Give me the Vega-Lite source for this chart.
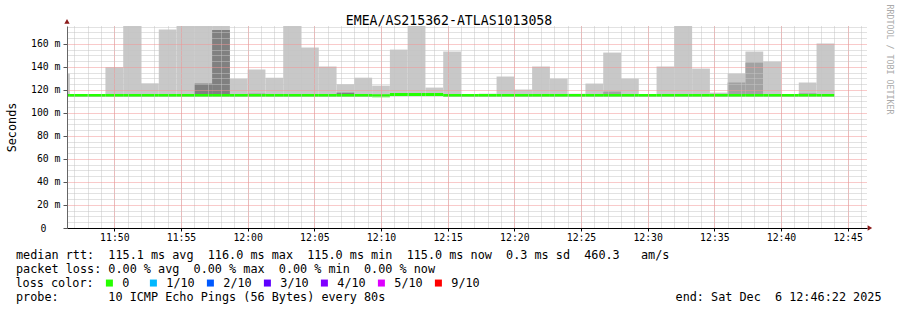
{
  "$schema": "https://vega.github.io/schema/vega-lite/v6.json",
  "width": 800,
  "height": 202,
  "autosize": {"type": "none"},
  "padding": {"left": 67, "top": 26, "right": 30, "bottom": 82},
  "background": "#ffffff",
  "config": {
    "view": {"stroke": null},
    "axis": {"labelFont": "DejaVu Sans Mono", "titleFont": "DejaVu Sans Mono", "titleFontWeight": "normal", "labelColor": "#000000", "titleColor": "#000000"}
  },
  "datasets": {
    "smoke": [
      {"t0": "2025-12-06T11:45:20Z", "t1": "2025-12-06T11:46:40Z", "med": 115.1, "max": 134, "loss": "0"},
      {"t0": "2025-12-06T11:46:40Z", "t1": "2025-12-06T11:48:00Z", "med": 115.1, "max": 116, "loss": "0"},
      {"t0": "2025-12-06T11:48:00Z", "t1": "2025-12-06T11:49:20Z", "med": 115.1, "max": 116, "loss": "0"},
      {"t0": "2025-12-06T11:49:20Z", "t1": "2025-12-06T11:50:40Z", "med": 115.1, "max": 139.7, "loss": "0"},
      {"t0": "2025-12-06T11:50:40Z", "t1": "2025-12-06T11:52:00Z", "med": 115.1, "max": 176, "loss": "0"},
      {"t0": "2025-12-06T11:52:00Z", "t1": "2025-12-06T11:53:20Z", "med": 115.1, "max": 125.7, "loss": "0"},
      {"t0": "2025-12-06T11:53:20Z", "t1": "2025-12-06T11:54:40Z", "med": 115.1, "max": 172.4, "loss": "0"},
      {"t0": "2025-12-06T11:54:40Z", "t1": "2025-12-06T11:56:00Z", "med": 115.1, "max": 176, "loss": "0"},
      {"t0": "2025-12-06T11:56:00Z", "t1": "2025-12-06T11:57:20Z", "med": 115.1, "max": 176, "p9": 125.5, "band": "dark", "loss": "0"},
      {"t0": "2025-12-06T11:57:20Z", "t1": "2025-12-06T11:58:40Z", "med": 115.1, "max": 176, "p9": 172, "band": "dark", "loss": "0"},
      {"t0": "2025-12-06T11:58:40Z", "t1": "2025-12-06T12:00:00Z", "med": 115.1, "max": 129.7, "loss": "0"},
      {"t0": "2025-12-06T12:00:00Z", "t1": "2025-12-06T12:01:20Z", "med": 115.1, "max": 137.6, "p9": 116.8, "band": "mid", "loss": "0"},
      {"t0": "2025-12-06T12:01:20Z", "t1": "2025-12-06T12:02:40Z", "med": 115.1, "max": 130.6, "loss": "0"},
      {"t0": "2025-12-06T12:02:40Z", "t1": "2025-12-06T12:04:00Z", "med": 115.1, "max": 176, "loss": "0"},
      {"t0": "2025-12-06T12:04:00Z", "t1": "2025-12-06T12:05:20Z", "med": 115.1, "max": 156.8, "loss": "0"},
      {"t0": "2025-12-06T12:05:20Z", "t1": "2025-12-06T12:06:40Z", "med": 115.1, "max": 140.3, "loss": "0"},
      {"t0": "2025-12-06T12:06:40Z", "t1": "2025-12-06T12:08:00Z", "med": 115.1, "max": 124.9, "p9": 117.6, "band": "dark", "loss": "0"},
      {"t0": "2025-12-06T12:08:00Z", "t1": "2025-12-06T12:09:20Z", "med": 115.1, "max": 130.6, "loss": "0"},
      {"t0": "2025-12-06T12:09:20Z", "t1": "2025-12-06T12:10:40Z", "med": 114.9, "max": 123.7, "loss": "0"},
      {"t0": "2025-12-06T12:10:40Z", "t1": "2025-12-06T12:12:00Z", "med": 116.0, "max": 155, "loss": "0"},
      {"t0": "2025-12-06T12:12:00Z", "t1": "2025-12-06T12:13:20Z", "med": 116.0, "max": 176, "loss": "0"},
      {"t0": "2025-12-06T12:13:20Z", "t1": "2025-12-06T12:14:40Z", "med": 116.0, "max": 122, "loss": "0"},
      {"t0": "2025-12-06T12:14:40Z", "t1": "2025-12-06T12:16:00Z", "med": 115.1, "max": 153.3, "loss": "0"},
      {"t0": "2025-12-06T12:16:00Z", "t1": "2025-12-06T12:17:20Z", "med": 115.1, "max": 116, "loss": "0"},
      {"t0": "2025-12-06T12:17:20Z", "t1": "2025-12-06T12:18:40Z", "med": 115.1, "max": 116.7, "loss": "0"},
      {"t0": "2025-12-06T12:18:40Z", "t1": "2025-12-06T12:20:00Z", "med": 115.1, "max": 131.6, "loss": "0"},
      {"t0": "2025-12-06T12:20:00Z", "t1": "2025-12-06T12:21:20Z", "med": 115.1, "max": 120.3, "loss": "0"},
      {"t0": "2025-12-06T12:21:20Z", "t1": "2025-12-06T12:22:40Z", "med": 115.1, "max": 140.3, "loss": "0"},
      {"t0": "2025-12-06T12:22:40Z", "t1": "2025-12-06T12:24:00Z", "med": 115.1, "max": 129.8, "loss": "0"},
      {"t0": "2025-12-06T12:24:00Z", "t1": "2025-12-06T12:25:20Z", "med": 115.1, "max": 116.7, "loss": "0"},
      {"t0": "2025-12-06T12:25:20Z", "t1": "2025-12-06T12:26:40Z", "med": 115.1, "max": 125.5, "loss": "0"},
      {"t0": "2025-12-06T12:26:40Z", "t1": "2025-12-06T12:28:00Z", "med": 115.1, "max": 152.4, "p9": 118.5, "band": "mid", "loss": "0"},
      {"t0": "2025-12-06T12:28:00Z", "t1": "2025-12-06T12:29:20Z", "med": 115.1, "max": 129.8, "loss": "0"},
      {"t0": "2025-12-06T12:29:20Z", "t1": "2025-12-06T12:30:40Z", "med": 115.1, "max": 116, "loss": "0"},
      {"t0": "2025-12-06T12:30:40Z", "t1": "2025-12-06T12:32:00Z", "med": 115.1, "max": 140.3, "loss": "0"},
      {"t0": "2025-12-06T12:32:00Z", "t1": "2025-12-06T12:33:20Z", "med": 115.1, "max": 176, "loss": "0"},
      {"t0": "2025-12-06T12:33:20Z", "t1": "2025-12-06T12:34:40Z", "med": 115.1, "max": 138.5, "loss": "0"},
      {"t0": "2025-12-06T12:34:40Z", "t1": "2025-12-06T12:36:00Z", "med": 115.1, "max": 117.6, "loss": "0"},
      {"t0": "2025-12-06T12:36:00Z", "t1": "2025-12-06T12:37:20Z", "med": 115.1, "max": 134.2, "p9": 126.4, "band": "mid", "loss": "0"},
      {"t0": "2025-12-06T12:37:20Z", "t1": "2025-12-06T12:38:40Z", "med": 115.1, "max": 153.3, "p9": 143.7, "band": "mid", "loss": "0"},
      {"t0": "2025-12-06T12:38:40Z", "t1": "2025-12-06T12:40:00Z", "med": 115.1, "max": 144.6, "loss": "0"},
      {"t0": "2025-12-06T12:40:00Z", "t1": "2025-12-06T12:41:20Z", "med": 115.1, "max": 116, "loss": "0"},
      {"t0": "2025-12-06T12:41:20Z", "t1": "2025-12-06T12:42:40Z", "med": 115.1, "max": 126.4, "p9": 117, "band": "mid", "loss": "0"},
      {"t0": "2025-12-06T12:42:40Z", "t1": "2025-12-06T12:44:00Z", "med": 115.1, "max": 160.2, "loss": "0"}
    ],
    "arrows": [
      {"t": "2025-12-06T12:46:40Z", "v": 0, "axis": "x"},
      {"t": "2025-12-06T11:46:27Z", "v": 179.5, "axis": "y"}
    ]
  },
  "resolve": {"axis": {"x": "independent", "y": "independent"}},
  "layer": [
    {
      "data": {"name": "smoke"},
      "mark": {"type": "rect", "color": "#c8c8c8", "clip": true},
      "encoding": {
        "x": {
          "field": "t0", "type": "temporal",
          "scale": {"type": "utc", "domain": [1765021587000, 1765025187000], "nice": false},
          "axis": {
            "orient": "bottom", "zindex": 1, "tickCount": 60, "labels": false, "ticks": false, "domain": false,
            "grid": true, "gridDash": [1, 1], "gridColor": "#c4c4c4",
            "title": "end: Sat Dec\u00a0\u00a06 12:46:22 2025", "titleFontSize": 11.8, "titleX": 814, "titleY": 72, "titleAlign": "right", "titleBaseline": "alphabetic", "titleAngle": 0
          }
        },
        "x2": {"field": "t1"},
        "y": {
          "field": "med", "type": "quantitative",
          "scale": {"domain": [0, 175.5], "nice": false, "zero": true},
          "axis": {
            "orient": "left", "zindex": 1,
            "values": [5, 10, 15, 25, 30, 35, 45, 50, 55, 65, 70, 75, 85, 90, 95, 105, 110, 115, 125, 130, 135, 145, 150, 155, 165, 170, 175],
            "labels": false, "ticks": false, "domain": false,
            "grid": true, "gridDash": [1, 1], "gridColor": "#c4c4c4",
            "title": null
          }
        },
        "y2": {"field": "max"}
      }
    },
    {
      "data": {"name": "smoke"},
      "transform": [{"filter": "isValid(datum.p9)"}],
      "mark": {"type": "rect", "clip": true},
      "encoding": {
        "x": {
          "field": "t0", "type": "temporal",
          "axis": {
            "orient": "bottom", "zindex": 1, "tickCount": 12, "format": "%H:%M",
            "labelFontSize": 9.8, "labelPadding": 1,
            "tickSize": 3, "tickColor": "#000000",
            "domainColor": "#000000",
            "grid": true, "gridDash": [1, 1], "gridColor": "#f29494",
            "title": ["median rtt:\u00a0\u00a0115.1 ms avg\u00a0\u00a0116.0 ms max\u00a0\u00a0115.0 ms min\u00a0\u00a0115.0 ms now\u00a0\u00a00.3 ms sd\u00a0\u00a0460.3\u00a0\u00a0\u00a0am/s", "packet loss: 0.00 % avg\u00a0\u00a00.00 % max\u00a0\u00a00.00 % min\u00a0\u00a00.00 % now", "\u2800", "probe:\u00a0\u00a0\u00a0\u00a0\u00a0\u00a0\u00a010 ICMP Echo Pings (56 Bytes) every 80s"],
            "titleFontSize": 11.8, "titleLineHeight": 14, "titleX": -51.5, "titleY": 30, "titleAlign": "left", "titleBaseline": "alphabetic", "titleAngle": 0
          }
        },
        "x2": {"field": "t1"},
        "y": {
          "field": "med", "type": "quantitative",
          "axis": {
            "orient": "left", "zindex": 1,
            "values": [0, 20, 40, 60, 80, 100, 120, 140, 160],
            "labelExpr": "datum.value == 0 ? '0\u2800\u2800' : datum.value + ' m'",
            "labelFontSize": 9.8, "labelPadding": 3,
            "tickSize": 4, "tickColor": "#555555",
            "domainColor": "#666666",
            "grid": true, "gridDash": [1, 1], "gridColor": "#f29494",
            "title": "Seconds", "titleFontSize": 11.8, "titleAngle": -90, "titleX": -56, "titleY": 101, "titleAlign": "center", "titleBaseline": "middle"
          }
        },
        "y2": {"field": "p9"},
        "color": {"field": "band", "type": "nominal", "scale": {"domain": ["mid", "dark"], "range": ["#a2a2a2", "#808080"]}, "legend": null}
      }
    },
    {
      "data": {"name": "smoke"},
      "mark": {"type": "rect", "strokeWidth": 3, "clip": true},
      "encoding": {
        "x": {"field": "t0", "type": "temporal", "axis": null},
        "x2": {"field": "t1"},
        "y": {"field": "med", "type": "quantitative", "axis": null},
        "y2": {"field": "med"},
        "fill": {
          "field": "loss", "type": "nominal",
          "scale": {"domain": ["0", "1/10", "2/10", "3/10", "4/10", "5/10", "9/10"], "range": ["#26ff00", "#00b8ff", "#0059ff", "#5e00ff", "#7e00ff", "#dd00ff", "#ff0000"]},
          "legend": {
            "orient": "none", "legendX": -51.5, "legendY": 251, "direction": "horizontal",
            "title": "loss color:", "titleOrient": "left", "titlePadding": 9, "titleFont": "DejaVu Sans Mono", "titleFontSize": 11.8, "titleFontWeight": "normal", "titleColor": "#000000",
            "labelFont": "DejaVu Sans Mono", "labelFontSize": 11.8, "labelColor": "#000000", "labelOffset": 7,
            "labelExpr": "datum.label == '0' ? '0\u2800' : datum.label",
            "symbolType": "square", "symbolSize": 49, "symbolStrokeWidth": 0, "symbolOpacity": 1, "columnPadding": 9
          }
        },
        "stroke": {
          "field": "loss", "type": "nominal",
          "scale": {"domain": ["0", "1/10", "2/10", "3/10", "4/10", "5/10", "9/10"], "range": ["#26ff00", "#00b8ff", "#0059ff", "#5e00ff", "#7e00ff", "#dd00ff", "#ff0000"]},
          "legend": null
        }
      }
    },
    {
      "data": {"name": "arrows"},
      "mark": {"type": "point", "filled": true, "size": 28, "color": "#8b1a1a", "opacity": 1, "clip": false},
      "encoding": {
        "x": {
          "field": "t", "type": "temporal",
          "axis": {
            "orient": "top", "labels": false, "ticks": false, "domain": false, "grid": false,
            "title": "EMEA/AS215362-ATLAS1013058", "titleFontSize": 13.2, "titleX": 381.5, "titleY": -2, "titleAlign": "center", "titleBaseline": "alphabetic", "titleAngle": 0
          }
        },
        "y": {
          "field": "v", "type": "quantitative",
          "axis": {
            "orient": "right", "labels": false, "ticks": false, "domain": false, "grid": false,
            "title": "RRDTOOL / TOBI OETIKER", "titleFontSize": 8.3, "titleColor": "#aaaaaa", "titleX": 21, "titleY": 33, "titleAngle": 90, "titleAlign": "center", "titleBaseline": "middle"
          }
        },
        "shape": {"field": "axis", "type": "nominal", "scale": {"domain": ["x", "y"], "range": ["triangle-right", "triangle-up"]}, "legend": null}
      }
    }
  ]
}
